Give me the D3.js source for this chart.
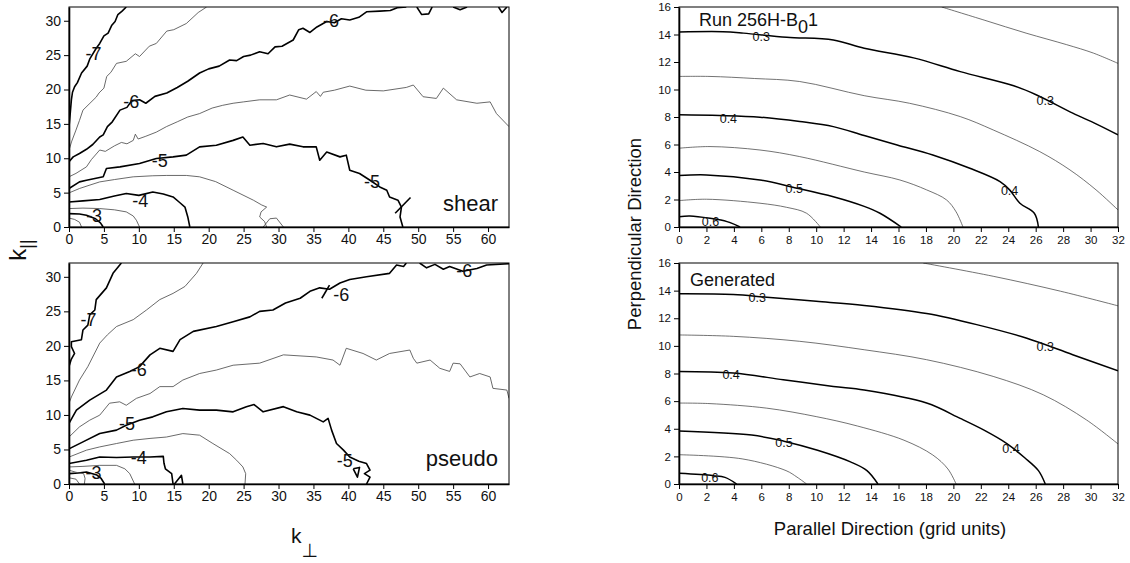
<!DOCTYPE html>
<html>
<head>
<meta charset="utf-8">
<script src="https://cdn.jsdelivr.net/npm/d3@7"></script>
<style>
  body { margin: 0; background: #fff; }
  svg text { font-family: "Liberation Sans", Arial, Helvetica, sans-serif; fill: #111; }
</style>
</head>
<body>
<svg id="chart" width="1130" height="563"></svg>
<script>
// ---- tick labels ----
var kPerpTicks = [0, 5, 10, 15, 20, 25, 30, 35, 40, 45, 50, 55, 60];
var kParTicks = [0, 5, 10, 15, 20, 25, 30];
var gridXTicks = [0, 2, 4, 6, 8, 10, 12, 14, 16, 18, 20, 22, 24, 26, 28, 30, 32];
var gridYTicks = [0, 2, 4, 6, 8, 10, 12, 14, 16];

// ---- shear spectrum contours (k_perp, k_par), log10 levels ----
var shearLevels = [-7, -6.5, -6, -6, -6, -6, -5.5, -5, -5, -4.5, -4.5, -4, -3.5, -3, -2.5];
var shearLines = [
  [[8.2,32],[7.6,31.4],[7.0,30.9],[6.6,29.9],[6.1,29.3],[5.6,28.2],[5.0,27.8],[4.4,26.7],[3.9,26.0],[3.0,24.5],[2.6,23.4],[1.8,22.4],[1.2,21.0],[0.8,20.4],[0.5,19.6],[0.34,18.5],[0.2,16.8],[0.05,15.1],[0,14.6]],
  [[19.7,32],[18.5,31.2],[16.8,29.6],[15.0,28.7],[14.0,28.5],[12.5,26.7],[11.5,26.3],[10.1,24.8],[9.5,25.2],[8.2,24.1],[6.8,23.8],[6.0,22.5],[5.4,21.9],[5.0,20.2],[4.3,19.5],[3.9,18.9],[3.0,18.0],[2.0,17.0],[1.5,15.5],[1.0,14.1],[0.4,12.5],[0,11.2]],
  [[0,9.5],[0.6,10.2],[1.5,10.7],[2.5,11.3],[3.4,12.0],[4.4,13.1],[4.9,13.4],[5.5,14.6],[6.2,15.3],[7.3,17.0],[8.3,17.4],[9.0,18.4],[10.1,18.5],[11.0,18.0],[12.3,19.0],[14.0,19.5],[15.5,20.3],[17.0,21.2],[18.7,22.4],[20.0,23.0],[21.5,23.4],[23.0,24.3],[24.0,24.2],[25.0,24.8],[26.0,25.0],[27.3,25.5],[28.5,25.2],[29.5,26.2],[30.5,26.3],[32.1,27.2],[32.9,28.7],[33.5,28.9],[34.5,28.3],[35.5,29.1],[36.9,29.9],[38.0,29.7],[39.0,30.3],[40.2,30.1],[41.5,30.5],[42.6,31.3],[44.5,31.4],[46.0,31.5],[47.0,31.9],[48.3,32]],
  [[49.8,32],[50.5,30.9],[51.5,31.0],[52.0,32]],
  [[55.0,32],[56.0,31.6],[57.0,32]],
  [[61.5,32],[62.0,31.2],[62.7,32]],
  [[0,7.3],[1.0,7.8],[2.5,8.75],[3.2,9.8],[4.4,11.2],[5.2,11.0],[6.5,11.8],[7.5,12.3],[8.3,12.1],[9.2,12.6],[9.5,13.5],[9.9,12.8],[11.0,13.2],[12.5,13.8],[13.95,14.6],[15.5,15.3],[17.0,16.0],[18.7,16.5],[20.5,17.3],[22.0,17.7],[23.5,18.0],[25.0,18.2],[27.3,18.5],[29.7,18.5],[31.6,19.2],[34.0,18.6],[35.4,19.7],[36.0,19.0],[36.4,19.6],[38.0,19.9],[40.2,20.5],[42.5,19.9],[45.0,19.8],[48.3,20.3],[49.3,20.65],[50.7,18.95],[52.6,18.7],[53.6,20.2],[55.5,18.5],[58.4,18.0],[60.3,18.2],[61.2,16.5],[63,14.6]],
  [[0,5.6],[1.5,6.56],[2.5,6.8],[4.9,7.3],[5.36,8.5],[7.3,8.75],[10.1,9.24],[12.5,9.97],[14.9,10.2],[16.8,10.45],[18.7,11.66],[21.1,11.9],[23.5,12.6],[24.9,13.1],[25.9,11.9],[27.8,12.15],[29.7,11.66],[31.6,12.05],[33.5,11.66],[35.4,11.66],[35.9,9.72],[36.9,10.9],[38.8,10.2],[39.7,10.45],[40.2,8.26],[41.6,7.78],[43.1,6.8],[44.5,5.83],[45.5,5.35],[45.9,4.37],[47.1,3.9],[47.6,2.9],[47.4,1.46],[47.8,0]],
  [[46.7,2.0],[48.9,4.3]],
  [[0,4.96],[1.5,5.6],[3,6.1],[4.4,6.56],[6.5,6.9],[9.2,7.3],[12,7.45],[14,7.5],[16.8,7.5],[18.7,7.3],[21,6.6],[23.5,5.35],[25.2,4.5],[26.4,3.9],[27.6,3.2],[28.3,2.9],[27.5,2.2],[27.3,1.46],[28.0,0.8],[28.3,0]],
  [[27.8,0],[28.75,1.2],[29.7,1.3],[30.7,0]],
  [[0,3.64],[2,3.8],[4.4,3.99],[6.5,4.5],[8.2,4.87],[10,4.6],[12.0,5.1],[13.5,4.8],[14.9,4.37],[15.8,3.6],[16.6,2.9],[17.0,1.5],[17.3,0]],
  [[0,2.68],[2,2.75],[4.4,2.68],[6.5,2.5],[8.2,2.2],[9.2,1.6],[9.65,0.98],[10.1,0]],
  [[0,1.95],[1.5,1.9],[2.5,1.7],[3.8,1.2],[4.5,0.6],[4.9,0]],
  [[0,1.3],[0.8,1.1],[1.5,0.7],[1.8,0]]
];
var shearLabels = [[3.5,25.3,"-7"],[8.9,18.3,"-6"],[37.5,30.0,"-6"],[13.0,9.7,"-5"],[43.4,6.6,"-5"],[10.2,3.8,"-4"],[3.6,1.6,"-3"]];

// ---- pseudo spectrum contours ----
var pseudoLevels = [-7, -6.5, -6, -6, -6, -5.5, -5, -5, -4.5, -4, -3.5, -3, -2.5, -2.5];
var pseudoLines = [
  [[7.5,32],[6.3,30.5],[5.36,28.4],[3.9,26.7],[3.7,25.2],[2.97,24.5],[2.7,23.0],[2.0,22.3],[1.78,20.9],[0.34,20.6],[0.34,19.9],[0.8,18.9],[0.3,18.0],[0,17.0]],
  [[19.2,32],[18.25,30.5],[16.6,28.6],[14.9,27.6],[13.0,26.7],[11.1,25.2],[9.2,23.8],[6.8,22.8],[5.5,21.6],[4.4,20.4],[3.9,19.4],[2.7,17.0],[1.5,15.05],[0.34,12.6],[0,11.7]],
  [[0,8.77],[1.06,10.7],[2.97,12.15],[5.36,13.6],[6.8,15.5],[8.7,16.3],[10.1,17.0],[11.6,18.7],[13.0,19.65],[14.9,19.2],[15.9,20.9],[17.8,22.1],[21.1,22.8],[23.5,23.5],[25.9,24.2],[27.3,25.0],[29.2,25.2],[31.0,26.2],[33.1,26.9],[34.5,27.9],[35.9,28.4],[37.3,28.2],[38.8,29.1],[40.2,29.6],[42.6,30.0],[45.9,30.5],[46.9,31.7],[47.9,31.5],[48.3,32]],
  [[50.2,32],[51.2,31.3],[52.4,31.8],[53.6,31.1],[54.5,31.5],[56.4,30.8],[58.4,31.2],[59.8,31.7],[63,31.9]],
  [[36.2,26.9],[37.3,28.8]],
  [[0,6.8],[1.5,8.27],[2.97,9.24],[4.4,9.97],[5.8,11.7],[7.26,11.9],[8.2,11.4],[9.65,12.4],[11.6,13.1],[13.0,14.1],[14.9,14.1],[16.3,15.05],[18.7,16.0],[21.1,16.5],[23.5,17.2],[27.3,17.5],[30.7,18.7],[35.4,18.4],[37.8,17.95],[38.8,17.2],[39.7,19.65],[42.1,18.9],[44.0,17.95],[45.9,18.9],[48.8,19.4],[49.3,18.2],[49.8,17.5],[51.7,17.95],[53.1,16.75],[54.5,16.3],[55.0,17.5],[56.0,17.4],[57.4,15.5],[58.8,16.0],[60.3,15.5],[60.7,13.85],[62.7,13.6],[63,12.4]],
  [[0,5.1],[2.0,6.1],[4.4,7.3],[6.8,7.8],[8.2,8.5],[10.1,9.24],[12.0,9.72],[13.95,10.45],[16.3,10.94],[18.7,10.7],[21.1,10.7],[23.5,10.45],[25.4,11.2],[26.5,11.5],[27.8,10.45],[30.7,11.2],[32.6,10.45],[34.5,9.97],[36.4,9.0],[37.1,9.5],[37.6,7.8],[38.3,5.86],[39.3,4.9],[40.2,3.9],[41.5,3.3],[42.6,2.96],[43.1,2.0],[42.3,1.5],[43.1,1.0],[42.6,0]],
  [[40.7,2.2],[41.6,2.4],[41.3,1.0],[40.7,2.2]],
  [[0,3.9],[2.5,4.9],[4.4,5.37],[6.8,5.86],[9.2,6.34],[11.6,6.6],[13.95,6.8],[16.3,7.3],[18.7,7.07],[20.6,5.86],[23.0,4.4],[24.0,3.44],[24.9,2.47],[25.3,1.5],[25.2,0]],
  [[0,2.96],[2.5,3.44],[4.4,3.9],[6.8,3.83],[9.2,3.9],[11.6,3.9],[13.5,4.0],[13.6,3.0],[13.8,2.2],[14.7,1.5],[14.9,0],[15.1,0],[16.1,1.26],[16.3,0]],
  [[0,2.47],[2.0,2.55],[4.4,2.7],[6.8,2.7],[8.0,2.2],[8.7,1.5],[9.4,0]],
  [[0,1.5],[1.3,1.6],[2.5,1.74],[4.0,1.3],[4.6,0.8],[5.1,0]],
  [[0,2.0],[1.0,1.7],[2.1,1.5],[2.3,0.8],[2.2,0]],
  [[0,0.9],[1.0,0.7],[1.5,0]]
];
var pseudoLabels = [[2.8,23.8,"-7"],[10.0,16.6,"-6"],[39.0,27.5,"-6"],[56.6,30.9,"-6"],[8.3,8.7,"-5"],[39.5,3.4,"-5"],[10.0,3.8,"-4"],[3.5,1.6,"-3"]];

// ---- Run 256H-B01 correlation contours (parallel, perpendicular) ----
var runLevels = [0.25, 0.3, 0.35, 0.4, 0.45, 0.5, 0.55, 0.6];
var runLines = [
  [[19.15,16],[22.3,15.03],[25.3,14.1],[28.26,13.26],[30.2,12.65],[32,11.9]],
  [[0,14.18],[3.2,14.2],[4.7,14.1],[7.85,13.8],[11.25,13.6],[13.5,13.0],[17.1,12.3],[20.5,11.3],[24.4,10.27],[26.07,9.6],[28.7,8.28],[30.4,7.5],[32,6.7]],
  [[0,10.95],[2.26,10.95],[5.5,10.8],[8.8,10.58],[13.5,9.55],[16.8,9.0],[20.5,8.03],[22.9,7.06],[26.3,5.48],[28.5,4.15],[30.4,2.7],[32,1.24]],
  [[0,8.16],[2.95,8.11],[5.9,7.99],[8.8,7.67],[11.25,7.3],[13.5,6.65],[15.9,5.97],[18.5,5.24],[21.2,4.27],[23.4,3.3],[24.1,2.7],[24.85,1.73],[25.9,1.0],[26.2,0]],
  [[0,5.73],[2.26,5.85],[5.9,5.6],[8.8,5.12],[13.5,4.0],[16.1,3.42],[18.05,2.7],[19.5,1.97],[20.2,1.1],[20.7,0]],
  [[0,3.74],[2.0,3.79],[5.9,3.42],[8.3,2.89],[11.25,2.2],[13.5,1.5],[14.65,1.0],[16.2,0]],
  [[0,1.92],[2.0,2.02],[5.9,1.73],[7.85,1.43],[9.3,1.0],[10.3,0]],
  [[0,0.75],[0.8,0.8],[2.26,0.63],[3.5,0.39],[4.45,0]]
];
var runLabels = [[6.0,13.86,"0.3"],[26.7,9.18,"0.3"],[3.6,7.9,"0.4"],[24.1,2.62,"0.4"],[8.4,2.82,"0.5"],[2.3,0.42,"0.6"]];

// ---- Generated correlation contours ----
var genLevels = [0.25, 0.3, 0.35, 0.4, 0.45, 0.5, 0.55, 0.6];
var genLines = [
  [[17.8,16],[22.9,15.04],[27.8,13.96],[32,12.9]],
  [[0,13.77],[3.96,13.72],[6.4,13.52],[10.0,13.23],[13.5,12.93],[18.05,12.34],[21.7,11.54],[25.3,10.57],[28.7,9.36],[32,8.2]],
  [[0,10.79],[3.96,10.69],[8.8,10.33],[13.5,9.72],[18.05,9.0],[22.9,7.79],[26.55,6.46],[29.7,4.64],[32,2.9]],
  [[0,8.15],[3.96,8.03],[7.6,7.55],[11.25,7.06],[13.5,6.8],[18.05,5.86],[20.5,4.75],[22.2,3.92],[23.9,2.93],[25.2,1.9],[26.2,0.97],[26.7,0]],
  [[0,5.86],[2.26,5.82],[6.4,5.49],[10.0,4.88],[13.0,4.2],[16.4,3.17],[18.5,2.1],[19.6,1.09],[20.2,0]],
  [[0,3.84],[5.3,3.54],[7.65,3.1],[10.1,2.44],[12.5,1.6],[13.7,0.97],[14.5,0]],
  [[0,2.12],[4.6,1.82],[7.8,0.97],[8.6,0.5],[9.3,0]],
  [[0,0.77],[2.5,0.6],[3.35,0.48],[4.2,0]]
];
var genLabels = [[5.7,13.47,"0.3"],[26.7,9.96,"0.3"],[3.8,7.91,"0.4"],[24.2,2.56,"0.4"],[7.65,3.0,"0.5"],[2.25,0.44,"0.6"]];

var svg = d3.select("#chart");

function drawPanel(p) {
  var x = d3.scaleLinear().domain(p.xDomain).range(p.xRange);
  var y = d3.scaleLinear().domain(p.yDomain).range(p.yRange);
  var g = svg.append("g");

  var clipId = "clip-" + p.name;
  svg.append("clipPath").attr("id", clipId)
    .append("rect")
    .attr("x", p.xRange[0]).attr("y", p.yRange[1])
    .attr("width", p.xRange[1] - p.xRange[0])
    .attr("height", p.yRange[0] - p.yRange[1]);

  var line = d3.line()
    .x(function(d) { return x(d[0]); })
    .y(function(d) { return y(d[1]); })
    .curve(p.curve);

  g.append("g").attr("clip-path", "url(#" + clipId + ")")
    .selectAll("path")
    .data(p.lines)
    .enter()
    .append("path")
    .attr("d", line)
    .attr("fill", "none")
    .attr("stroke-linejoin", "round")
    .attr("stroke", function(d, i) { return p.isThick(p.levels[i]) ? "#000" : "#444"; })
    .attr("stroke-width", function(d, i) { return p.isThick(p.levels[i]) ? p.thick : p.thin; });

  g.selectAll("text.clabel")
    .data(p.labels)
    .enter()
    .append("text")
    .attr("class", "clabel")
    .attr("x", function(d) { return x(d[0]); })
    .attr("y", function(d) { return y(d[1]); })
    .attr("dy", "0.36em")
    .attr("text-anchor", "middle")
    .style("font-size", p.labelSize + "px")
    .text(function(d) { return d[2]; });

  // frame
  g.append("rect")
    .attr("x", p.xRange[0]).attr("y", p.yRange[1])
    .attr("width", p.xRange[1] - p.xRange[0])
    .attr("height", p.yRange[0] - p.yRange[1])
    .attr("fill", "none").attr("stroke", "#000").attr("stroke-width", 1);

  var xAxis = d3.axisBottom(x).tickValues(p.xTicks).tickSize(5).tickPadding(p.xPad).tickSizeOuter(0);
  var yAxis = d3.axisLeft(y).tickValues(p.yTicks).tickSize(5).tickPadding(3).tickSizeOuter(0);

  var gx = g.append("g")
    .attr("transform", "translate(0," + p.yRange[0] + ")")
    .call(xAxis);
  var gy = g.append("g")
    .attr("transform", "translate(" + p.xRange[0] + ",0)")
    .call(yAxis);

  [gx, gy].forEach(function(a) {
    a.select(".domain").attr("stroke", "#000").attr("stroke-width", 1.6);
    a.selectAll(".tick line").attr("stroke", "#000");
    a.selectAll(".tick text")
      .style("font-size", p.tickSize + "px")
      .style("font-family", "'Liberation Sans', Arial, sans-serif")
      .attr("fill", "#111");
  });
}

var leftX = [69, 509], rightX = [679, 1118];
var topY = [227, 7], botY = [484, 263];

function intLevel(l) { return Math.abs(l - Math.round(l)) < 1e-6; }
function tenthLevel(l) { return Math.abs(l * 10 - Math.round(l * 10)) < 1e-6; }

drawPanel({ name: "shear", xDomain: [0, 63], yDomain: [0, 32], xRange: leftX, yRange: topY,
  lines: shearLines, levels: shearLevels, labels: shearLabels, isThick: intLevel,
  curve: d3.curveLinear, thick: 1.6, thin: 0.8, labelSize: 18,
  xTicks: kPerpTicks, yTicks: kParTicks, tickSize: 14, xPad: 2 });

drawPanel({ name: "pseudo", xDomain: [0, 63], yDomain: [0, 32], xRange: leftX, yRange: botY,
  lines: pseudoLines, levels: pseudoLevels, labels: pseudoLabels, isThick: intLevel,
  curve: d3.curveLinear, thick: 1.6, thin: 0.8, labelSize: 18,
  xTicks: kPerpTicks, yTicks: kParTicks, tickSize: 14, xPad: 2 });

drawPanel({ name: "run", xDomain: [0, 32], yDomain: [0, 16], xRange: rightX, yRange: topY,
  lines: runLines, levels: runLevels, labels: runLabels, isThick: tenthLevel,
  curve: d3.curveCatmullRom.alpha(0.5), thick: 1.5, thin: 0.75, labelSize: 12.5,
  xTicks: gridXTicks, yTicks: gridYTicks, tickSize: 11.5, xPad: 4 });

drawPanel({ name: "gen", xDomain: [0, 32], yDomain: [0, 16], xRange: rightX, yRange: botY,
  lines: genLines, levels: genLevels, labels: genLabels, isThick: tenthLevel,
  curve: d3.curveCatmullRom.alpha(0.5), thick: 1.5, thin: 0.75, labelSize: 12.5,
  xTicks: gridXTicks, yTicks: gridYTicks, tickSize: 11.5, xPad: 4 });

// panel captions
svg.append("text").attr("x", 498).attr("y", 211).attr("text-anchor", "end")
  .style("font-size", "22px").text("shear");
svg.append("text").attr("x", 498).attr("y", 466).attr("text-anchor", "end")
  .style("font-size", "22px").text("pseudo");

var run = svg.append("text").attr("x", 699).attr("y", 26).style("font-size", "18px");
run.append("tspan").text("Run 256H-B");
run.append("tspan").attr("dy", 7).text("0");
run.append("tspan").attr("dy", -7).text("1");

svg.append("text").attr("x", 690).attr("y", 286).style("font-size", "18px").text("Generated");

// axis titles
svg.append("text")
  .attr("transform", "translate(641,234) rotate(-90)")
  .attr("text-anchor", "middle")
  .style("font-size", "18.5px")
  .text("Perpendicular Direction");

svg.append("text")
  .attr("x", 890).attr("y", 535)
  .attr("text-anchor", "middle")
  .style("font-size", "18.5px")
  .text("Parallel Direction (grid units)");

var kpar = svg.append("text")
  .attr("transform", "translate(26,250) rotate(-90)")
  .attr("text-anchor", "middle")
  .style("font-size", "24px");
kpar.append("tspan").text("k");
kpar.append("tspan").attr("dy", 7).style("font-size", "18px").text("||");

var kperp = svg.append("text")
  .attr("x", 291).attr("y", 543)
  .style("font-size", "21px");
kperp.append("tspan").text("k");
kperp.append("tspan").attr("dy", 14).style("font-size", "19px")
  .style("font-family", "'DejaVu Sans', sans-serif").text("\u22A5");
</script>
</body>
</html>
